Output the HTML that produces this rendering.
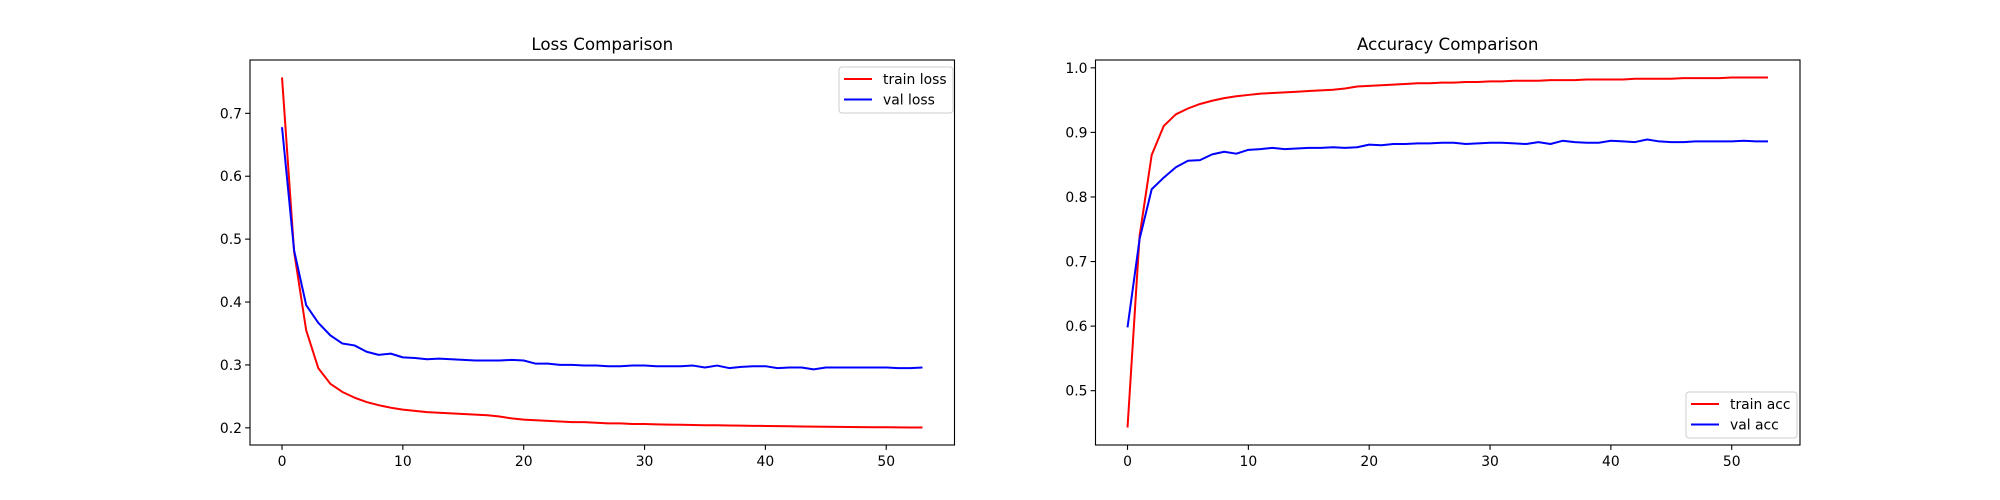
<!DOCTYPE html>
<html><head><meta charset="utf-8"><style>
html,body{margin:0;padding:0;background:#fff;}
svg{display:block;font-family:"DejaVu Sans","Liberation Sans",sans-serif;}
</style></head><body>
<svg id="chart" width="2000" height="500" xmlns="http://www.w3.org/2000/svg"></svg>
<script>
const epochs = Array.from({length:54},(_,i)=>i);
const trainLoss = [0.757,0.48,0.355,0.295,0.27,0.257,0.248,0.241,0.236,0.232,0.229,0.227,0.225,0.224,0.223,0.222,0.221,0.220,0.218,0.215,0.213,0.212,0.211,0.210,0.209,0.209,0.208,0.207,0.207,0.206,0.206,0.2055,0.205,0.2048,0.2045,0.2042,0.204,0.2038,0.2035,0.2032,0.203,0.2028,0.2025,0.2022,0.202,0.2018,0.2016,0.2014,0.2012,0.201,0.2009,0.2008,0.2006,0.2005];
const valLoss = [0.678,0.482,0.395,0.367,0.347,0.334,0.331,0.321,0.316,0.318,0.312,0.311,0.309,0.310,0.309,0.308,0.307,0.307,0.307,0.308,0.307,0.302,0.302,0.300,0.300,0.299,0.299,0.298,0.298,0.299,0.299,0.298,0.298,0.298,0.299,0.296,0.299,0.295,0.297,0.298,0.298,0.295,0.296,0.296,0.293,0.296,0.296,0.296,0.296,0.296,0.296,0.295,0.295,0.296];
const trainAcc = [0.443,0.74,0.865,0.91,0.928,0.937,0.944,0.949,0.953,0.956,0.958,0.960,0.961,0.962,0.963,0.964,0.965,0.966,0.968,0.971,0.972,0.973,0.974,0.975,0.976,0.976,0.977,0.977,0.978,0.978,0.979,0.979,0.980,0.980,0.980,0.981,0.981,0.981,0.982,0.982,0.982,0.982,0.983,0.983,0.983,0.983,0.984,0.984,0.984,0.984,0.985,0.985,0.985,0.985];
const valAcc = [0.598,0.735,0.812,0.83,0.846,0.856,0.857,0.866,0.870,0.867,0.873,0.874,0.876,0.874,0.875,0.876,0.876,0.877,0.876,0.877,0.881,0.880,0.882,0.882,0.883,0.883,0.884,0.884,0.882,0.883,0.884,0.884,0.883,0.882,0.885,0.882,0.887,0.885,0.884,0.884,0.887,0.886,0.885,0.889,0.886,0.885,0.885,0.886,0.886,0.886,0.886,0.887,0.886,0.886];
const xTicks = [0,10,20,30,40,50];
const lossTicks = [0.2,0.3,0.4,0.5,0.6,0.7];
const lossTickLabels = ["0.2","0.3","0.4","0.5","0.6","0.7"];
const accTicks = [0.5,0.6,0.7,0.8,0.9,1.0];
const accTickLabels = ["0.5","0.6","0.7","0.8","0.9","1.0"];

const svg = document.getElementById('chart');
const NS = 'http://www.w3.org/2000/svg';
function mk(tag, attrs, parent){const e=document.createElementNS(NS,tag);for(const k in attrs)e.setAttribute(k,attrs[k]);(parent||svg).appendChild(e);return e;}

function drawPanel(opt){
  const L=opt.left,R=opt.left+704.5,T=60,B=445;
  const sx=v=>L+(v+2.65)/(58.3)*(R-L);
  const sy=v=>B-(v-opt.ymin)/(opt.ymax-opt.ymin)*(B-T);
  const g=mk('g',{});
  
  
  const t=mk('text',{x:(L+R)/2,y:T-10,'text-anchor':'middle','font-size':'16.7'},g);
  t.textContent=opt.title;
  
  
  xTicks.forEach(v=>{
    const x=sx(v);
    const tk=mk('line',{x1:x,x2:x,y1:B,y2:B+4.9,stroke:'#000','stroke-width':1.1},g);
    
    
    const lb=mk('text',{x:x,y:B+21,'text-anchor':'middle','font-size':'13.9'},g);
    lb.textContent=v;
    
    
  });
  opt.ticks.forEach((v,i)=>{
    const y=sy(v);
    const tk=mk('line',{x1:L-4.9,x2:L,y1:y,y2:y,stroke:'#000','stroke-width':1.1},g);
    
    
    const lb=mk('text',{x:L-8,y:y+5,'text-anchor':'end','font-size':'13.9'},g);
    lb.textContent=opt.tickLabels[i];
    
    
  });
  opt.series.forEach(s=>{
    const d=s.values.map((v,i)=>(i?'L':'M')+sx(epochs[i]).toFixed(2)+' '+sy(v).toFixed(2)).join(' ');
    const p=mk('path',{d:d,fill:'none',stroke:s.color,'stroke-width':2,'stroke-linejoin':'round'},g);
    
    
  });
  const fr=mk('rect',{x:L,y:T,width:R-L,height:B-T,fill:'none',stroke:'#000','stroke-width':1.1},g);
  
  
  const lg=mk('g',{},g);
  
  
  mk('rect',{x:opt.lx,y:opt.ly,width:opt.lw,height:46,rx:3,fill:'#fff','fill-opacity':0.8,stroke:'#ccc','stroke-width':1},lg);
  opt.series.forEach((s,i)=>{
    const yy=opt.ly+12+i*20.5;
    mk('line',{x1:opt.lx+5,x2:opt.lx+33,y1:yy,y2:yy,stroke:s.color,'stroke-width':2},lg);
    const lt=mk('text',{x:opt.lx+44,y:yy+5,'font-size':'13.9'},lg);
    lt.textContent=s.label;
    
    
  });
}
drawPanel({name:'loss-chart',title:'Loss Comparison',left:250,ymin:0.1727,ymax:0.7848,ticks:lossTicks,tickLabels:lossTickLabels,
  series:[{name:'train-loss-line',label:'train loss',color:'#ff0000',values:trainLoss},{name:'val-loss-line',label:'val loss',color:'#0000ff',values:valLoss}],
  lx:839,ly:67,lw:114});
drawPanel({name:'accuracy-chart',title:'Accuracy Comparison',left:1095.5,ymin:0.4159,ymax:1.0121,ticks:accTicks,tickLabels:accTickLabels,
  series:[{name:'train-acc-line',label:'train acc',color:'#ff0000',values:trainAcc},{name:'val-acc-line',label:'val acc',color:'#0000ff',values:valAcc}],
  lx:1686,ly:392,lw:111});
</script>
</body></html>
